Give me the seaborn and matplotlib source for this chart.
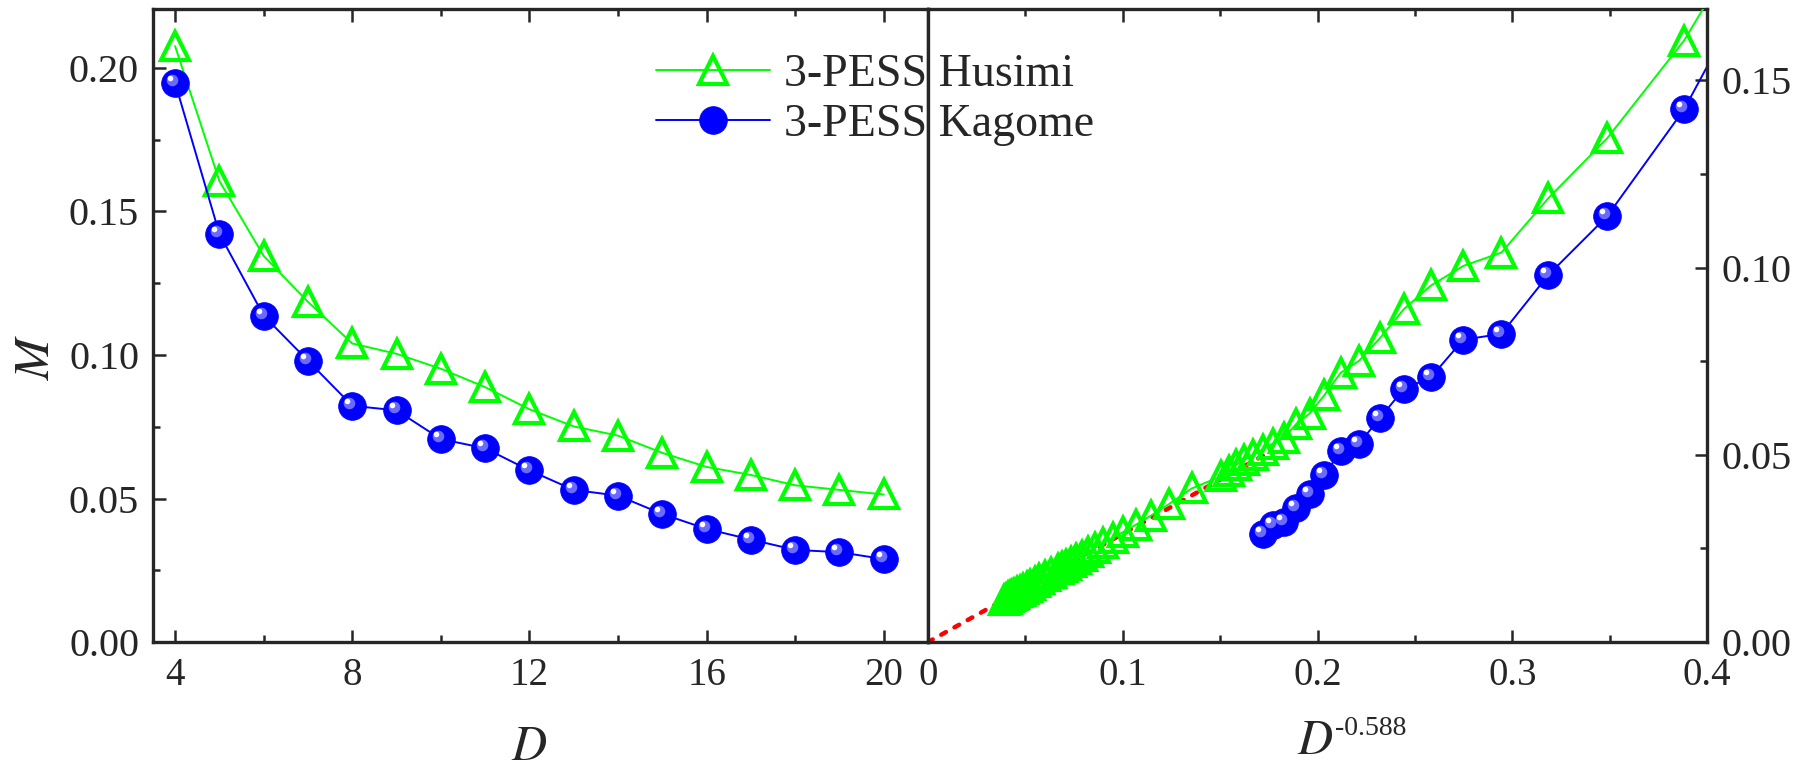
import matplotlib
matplotlib.use('Agg')
from matplotlib import pyplot as plt
from matplotlib import transforms
import numpy as np
import pandas as pd
import seaborn as sns

# bond dimension D, magnetization M
d_small = [4, 5, 6, 7, 8, 9, 10, 11, 12, 13, 14, 15, 16, 17, 18, 19, 20]
m_husimi_small = [0.2076, 0.1606, 0.1345, 0.1185, 0.1040, 0.1004, 0.0952, 0.0888, 0.0811,
                  0.0751, 0.0719, 0.0659, 0.0610, 0.0582, 0.0546, 0.0530, 0.0514]
m_kagome = [0.1948, 0.1422, 0.1137, 0.0980, 0.0823, 0.0807, 0.0707, 0.0675, 0.0598,
            0.0530, 0.0510, 0.0446, 0.0394, 0.0357, 0.0321, 0.0313, 0.0289]

# extra Husimi points only shown in the scaling panel
d_large = [21, 22, 23, 24, 25, 30, 35, 40, 45, 50, 55, 60, 65, 70, 75, 80, 85, 90, 95, 100,
           110, 120, 130, 140, 150, 160, 170, 180, 190, 200, 210, 220, 230, 240, 250]
m_husimi_large = [0.0500, 0.0487, 0.0473, 0.0457, 0.0443, 0.0410, 0.0368, 0.0337, 0.0313,
                  0.0294, 0.0278, 0.0264, 0.0252, 0.0241, 0.0231, 0.0222, 0.0214, 0.0207,
                  0.0201, 0.0195, 0.0184, 0.0175, 0.0167, 0.0160, 0.0153, 0.0147, 0.0142,
                  0.0137, 0.0133, 0.0129, 0.0126, 0.0122, 0.0119, 0.0116, 0.0113]

# red dotted linear fit
fit_x = [0.0, 0.175]
fit_y = [0.0, 0.0506]

expo = 0.588

husimi = pd.DataFrame({'D': d_small + d_large, 'M': m_husimi_small + m_husimi_large})
husimi['x'] = husimi['D'] ** -expo
kagome = pd.DataFrame({'D': d_small, 'M': m_kagome})
kagome['x'] = kagome['D'] ** -expo
husimi_left = husimi[husimi['D'] <= 20]

sns.set_style('ticks')
plt.rcParams['font.family'] = ['Liberation Serif', 'DejaVu Serif']
plt.rcParams['mathtext.fontset'] = 'stix'

green = '#00ff00'
blue = '#0000ff'

fig = plt.figure(figsize=(18.08, 7.69), dpi=100)
ax1 = fig.add_axes([0.0846, 0.1651, 0.4287, 0.8231])
ax2 = fig.add_axes([0.5133, 0.1651, 0.4309, 0.8231])

tri_kw = dict(marker='^', markersize=20, markerfacecolor='none', markeredgecolor=green,
              markeredgewidth=3.0, color=green, linewidth=1.4)
ball_kw = dict(marker='o', markersize=20, markerfacecolor=blue, markeredgecolor=blue,
               markeredgewidth=0.5, color=blue, linewidth=1.4)


def draw_balls(ax, df, xcol):
    sns.lineplot(data=df, x=xcol, y='M', ax=ax, label='3-PESS Kagome', estimator=None,
                 **ball_kw)
    shade = transforms.offset_copy(ax.transData, fig=fig, x=-3, y=3, units='dots')
    glint = transforms.offset_copy(ax.transData, fig=fig, x=-5, y=5, units='dots')
    ax.scatter(df[xcol], df['M'], s=70, color='#6a6aff', linewidths=0,
               transform=shade, zorder=5)
    ax.scatter(df[xcol], df['M'], s=16, color='white', linewidths=0,
               transform=glint, zorder=6)


# left panel: M vs D
sns.lineplot(data=husimi_left, x='D', y='M', ax=ax1, label='3-PESS Husimi', estimator=None,
             **tri_kw)
draw_balls(ax1, kagome, 'D')
ax1.set_xlim(3.5, 21)
ax1.set_ylim(0, 0.2205)
ax1.set_xticks([4, 8, 12, 16, 20])
ax1.set_xticks([6, 10, 14, 18], minor=True)
ax1.set_yticks([0, 0.05, 0.10, 0.15, 0.20])
ax1.set_yticks([0.025, 0.075, 0.125, 0.175], minor=True)
ax1.set_yticklabels(['%.2f' % v for v in [0, 0.05, 0.10, 0.15, 0.20]])
ax1.tick_params(which='both', direction='in', top=True, right=False, width=1.8)
ax1.tick_params(which='major', length=9, labelsize=29, pad=10)
ax1.tick_params(which='minor', length=5)
ax1.tick_params(axis='x', labelsize=28, pad=11)
ax1.set_xlabel('$D$', fontsize=35)
ax1.set_ylabel('$M$', fontsize=36)
ax1.xaxis.label.set_va('center')
ax1.yaxis.label.set_va('center')
ax1.xaxis.set_label_coords(0.486, -0.168)
ax1.yaxis.set_label_coords(-0.15, 0.45)
ax1.get_legend().remove()

# right panel: M vs D^-0.588
sns.lineplot(x=fit_x, y=fit_y, ax=ax2, color='red', linewidth=3.2,
             linestyle=(0, (1.2, 2.2)), dash_capstyle='round', zorder=1)
sns.lineplot(data=husimi, x='x', y='M', ax=ax2, label='3-PESS Husimi', estimator=None,
             zorder=3, **tri_kw)
draw_balls(ax2, kagome, 'x')
ax2.set_xlim(0, 0.4)
ax2.set_ylim(0, 0.169)
ax2.set_xticks([0, 0.1, 0.2, 0.3, 0.4])
ax2.set_xticklabels(['0', '0.1', '0.2', '0.3', '0.4'])
ax2.set_xticks([0.05, 0.15, 0.25, 0.35], minor=True)
ax2.set_yticks([0, 0.05, 0.10, 0.15])
ax2.set_yticklabels(['%.2f' % v for v in [0, 0.05, 0.10, 0.15]])
ax2.set_yticks([0.025, 0.075, 0.125], minor=True)
ax2.yaxis.tick_right()
ax2.tick_params(which='both', direction='in', top=True, left=False, right=True, width=1.8)
ax2.tick_params(which='major', length=9, labelsize=29, pad=10)
ax2.tick_params(which='minor', length=5)
ax2.tick_params(axis='x', labelsize=28, pad=11)
ax2.set_xlabel('$D$', fontsize=35)
ax2.xaxis.label.set_va('center')
ax2.xaxis.set_label_coords(0.497, -0.158)
ax2.text(0.522, -0.136, '-0.588', transform=ax2.transAxes, fontsize=20,
         ha='left', va='center')
ax2.set_ylabel('')

handles, labels = ax2.get_legend_handles_labels()
ax2.get_legend().remove()
fig.legend(handles, labels, loc='upper left', bbox_to_anchor=(0.350, 0.96),
           frameon=False, fontsize=33, handlelength=2.5, handletextpad=0.3,
           borderpad=0, labelspacing=0.15)

for ax in (ax1, ax2):
    for sp in ax.spines.values():
        sp.set_linewidth(2.4)
        sp.set_visible(True)

fig.savefig('out.png', dpi=100)
